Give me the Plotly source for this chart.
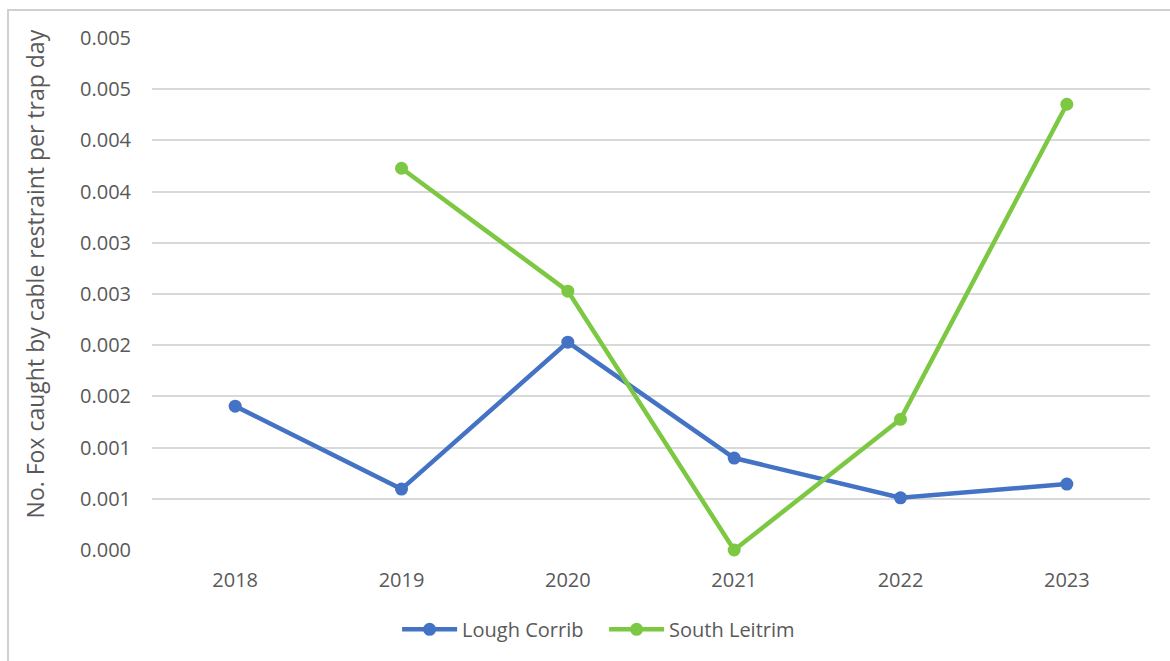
import plotly.graph_objects as go

years = ["2018", "2019", "2020", "2021", "2022", "2023"]
lough_corrib = [0.001405, 0.000595, 0.00203, 0.000898, 0.00051, 0.000644]
south_leitrim = [None, 0.003728, 0.002528, 0.0, 0.001276, 0.004353]
y_ticks = [0, 0.0005, 0.001, 0.0015, 0.002, 0.0025, 0.003, 0.0035, 0.004, 0.0045, 0.005]
y_tick_labels = ["0.000", "0.001", "0.001", "0.002", "0.002", "0.003",
                 "0.003", "0.004", "0.004", "0.005", "0.005"]

FONT = "Open Sans"
GRAY = "#595959"

fig = go.Figure()
fig.add_trace(go.Scatter(
    x=years, y=lough_corrib, name="Lough Corrib", mode="lines+markers",
    line=dict(color="#4472C4", width=4.5), marker=dict(size=13, color="#4472C4"),
    cliponaxis=False,
))
fig.add_trace(go.Scatter(
    x=years, y=south_leitrim, name="South Leitrim", mode="lines+markers",
    line=dict(color="#7DC843", width=4.5), marker=dict(size=13, color="#7DC843"),
    connectgaps=False, cliponaxis=False,
))

fig.update_layout(
    width=1170, height=661,
    margin=dict(l=152, r=20, t=38, b=111),
    paper_bgcolor="white", plot_bgcolor="white",
    font=dict(family=FONT, color=GRAY, size=20),
    showlegend=True,
    legend=dict(orientation="h", x=0.453, xanchor="center", y=-0.155, yanchor="middle",
                font=dict(size=20, color=GRAY), itemwidth=55, entrywidth=137,
                entrywidthmode="pixels"),
    xaxis=dict(type="category", showgrid=False, showline=False, ticks="",
               tickfont=dict(size=20, color=GRAY), range=[-0.5, 5.5],
               ticklabelstandoff=16),
    yaxis=dict(range=[0, 0.005], tickvals=y_ticks, ticktext=y_tick_labels,
               showgrid=True, gridcolor="#D9D9D9", gridwidth=1.5,
               zeroline=False, showline=False, ticks="",
               tickfont=dict(size=20, color=GRAY), ticklabelstandoff=20),
    annotations=[dict(text="No. Fox caught by cable restraint per trap day",
                      xref="paper", yref="paper", x=-0.117, y=0.5387,
                      xanchor="center", yanchor="middle", textangle=-90,
                      showarrow=False, font=dict(size=23, color=GRAY))],
    shapes=[dict(type="rect", xref="paper", yref="paper",
                 x0=-0.1443, x1=1.1, y0=-0.3, y1=1.0547,
                 line=dict(color="#D0D0D0", width=2), fillcolor="rgba(0,0,0,0)", layer="below")],
)

fig.write_html("out.html")
